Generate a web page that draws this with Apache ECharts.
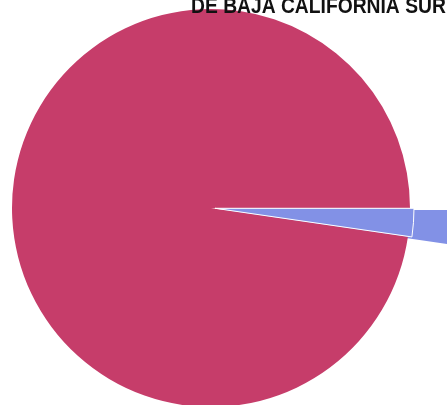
<!DOCTYPE html>
<html>
<head>
<meta charset="utf-8">
<script src="https://cdn.jsdelivr.net/npm/echarts@6/dist/echarts.min.js"></script>
<style>html,body{margin:0;padding:0;background:#fff;}#c{width:447px;height:405px;}</style>
</head>
<body>
<div id="c"></div>
<script>
var categories = ['Otros', 'Principal'];
var values = [2.3, 97.7];
var colors = ['#8291e6', '#c63d6a'];
var titleText = 'DE BAJA CALIFORNIA SUR';

var chart = echarts.init(document.getElementById('c'), null, {renderer: 'canvas'});

// main pie: both slices, small slice pulled out
var mainData = categories.map(function (name, i) {
  return {
    name: name,
    value: values[i],
    selected: i === 0,
    itemStyle: i === 0
      ? {color: colors[0], borderColor: '#ffffff', borderWidth: 1}
      : {color: colors[1], borderWidth: 0}
  };
});
// extension of the pulled-out slice beyond the main circle
var extData = categories.map(function (name, i) {
  return {
    name: name,
    value: values[i],
    itemStyle: i === 0
      ? {color: colors[0], borderWidth: 0}
      : {color: 'rgba(255,255,255,0)', borderWidth: 0}
  };
});

chart.setOption({
  animation: false,
  backgroundColor: '#ffffff',
  graphic: [{
    type: 'text',
    x: 191,
    y: 7,
    scaleX: 0.876,
    z: 100,
    style: {
      text: titleText,
      font: 'bold 22px "Liberation Sans", Arial, sans-serif',
      fill: '#111111',
      verticalAlign: 'middle',
      align: 'left'
    }
  }],
  series: [
    {
      type: 'pie',
      z: 1,
      center: [214, 210],
      radius: [0, 320],
      startAngle: 0,
      clockwise: true,
      label: {show: false},
      labelLine: {show: false},
      data: extData
    },
    {
      type: 'pie',
      z: 2,
      center: [211, 208],
      radius: [0, 199],
      startAngle: 0,
      clockwise: true,
      selectedMode: 'single',
      selectedOffset: 4,
      label: {show: false},
      labelLine: {show: false},
      data: mainData
    }
  ]
});
</script>
</body>
</html>
